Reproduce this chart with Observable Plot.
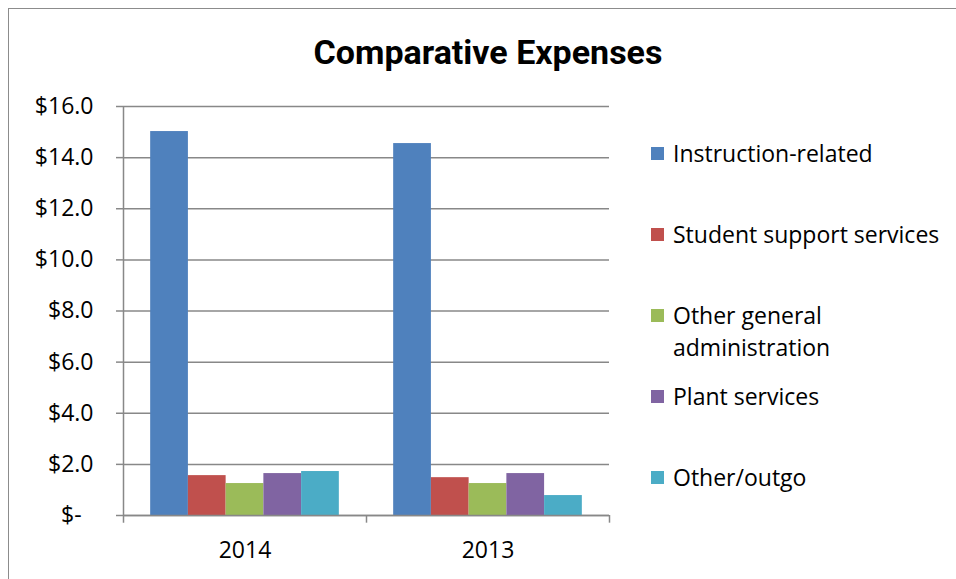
<!DOCTYPE html>
<html>
<head>
<meta charset="utf-8">
<script src="https://cdn.jsdelivr.net/npm/d3@7"></script>
<script src="https://cdn.jsdelivr.net/npm/@observablehq/plot@0.6"></script>
<style>
  html, body { margin: 0; padding: 0; background: #fff; }
  #chart { position: relative; width: 956px; height: 579px; overflow: hidden; font-family: "Open Sans", sans-serif; color: #000; }
  #border { position: absolute; left: 8px; top: 8px; width: 980px; height: 620px; border: 1.5px solid #8c8c8c; box-sizing: border-box; }
  #title { position: absolute; left: 0; width: 976px; top: 32px; text-align: center; font-family: Roboto, sans-serif; font-weight: 700; font-size: 34px; line-height: 40px; }
  #plot { position: absolute; left: 0; top: 80px; }
  #legend { position: absolute; left: 651px; top: 137px; }
  .item { display: flex; align-items: flex-start; height: 81px; }
  .sw { width: 13px; height: 13px; margin-top: 10px; margin-right: 9px; flex: none; }
  .lab { font-size: 23px; line-height: 32px; width: 285px; }
</style>
</head>
<body>
<div id="chart">
  <div id="border"></div>
  <div id="title">Comparative Expenses</div>
  <div id="plot"></div>
  <div id="legend"></div>
</div>
<script>
const years = ["2014", "2013"];
const categories = ["Instruction-related", "Student support services", "Other general administration", "Plant services", "Other/outgo"];
const values2014 = [15.02, 1.56, 1.25, 1.64, 1.72];
const values2013 = [14.55, 1.48, 1.25, 1.64, 0.78];
const colors = ["#4F81BD", "#C0504D", "#9BBB59", "#8064A2", "#4BACC6"];
const yTicks = [0, 2, 4, 6, 8, 10, 12, 14, 16];

const seriesByYear = {"2014": values2014, "2013": values2013};
const rows = years.flatMap(year => categories.map((category, i) => ({year, category, i, value: seriesByYear[year][i]})));

const pad = 0.72;
const xLeft = -pad, xRight = categories.length + pad;
const grey = "#888888";
const tickDepth = -0.3;

const chart = Plot.plot({
  width: 620,
  height: 499,
  marginLeft: 122,
  marginRight: 11,
  marginTop: 26,
  marginBottom: 64,
  style: {fontFamily: "Open Sans, sans-serif", fontSize: "23px", color: "#000", background: "transparent", overflow: "visible"},
  fx: {domain: years, padding: 0},
  x: {domain: [xLeft, xRight], axis: null},
  y: {domain: [0, 16]},
  color: {domain: categories, range: colors},
  marks: [
    Plot.ruleY(yTicks, {stroke: grey, strokeWidth: 1.5}),
    Plot.rectY(rows, {fx: "year", x1: d => d.i, x2: d => d.i + 1, y: "value", fill: "category"}),
    Plot.ruleY([0], {stroke: grey, strokeWidth: 1.5}),
    Plot.ruleX([xLeft], {fx: () => "2014", y1: yTicks[yTicks.length - 1], y2: tickDepth, stroke: grey, strokeWidth: 1.5}),
    Plot.ruleX([xLeft], {fx: () => "2013", y1: 0, y2: tickDepth, stroke: grey, strokeWidth: 1.5}),
    Plot.ruleX([xRight], {fx: () => "2013", y1: 0, y2: tickDepth, stroke: grey, strokeWidth: 1.5}),
    Plot.axisY({ticks: yTicks, tickSize: 7, tickPadding: 23, stroke: grey, strokeWidth: 1.5, fontSize: 23, label: null,
      tickFormat: d => d === 0 ? "$-  " : "$" + d.toFixed(1)}),
    Plot.axisFx({anchor: "bottom", tickSize: 0, tickPadding: 26, fontSize: 23, label: null})
  ]
});
document.getElementById("plot").appendChild(chart);

const legend = d3.select("#legend");
categories.forEach((c, i) => {
  const item = legend.append("div").attr("class", "item");
  item.append("div").attr("class", "sw").style("background", colors[i]);
  item.append("div").attr("class", "lab").text(c);
});
</script>
</body>
</html>
